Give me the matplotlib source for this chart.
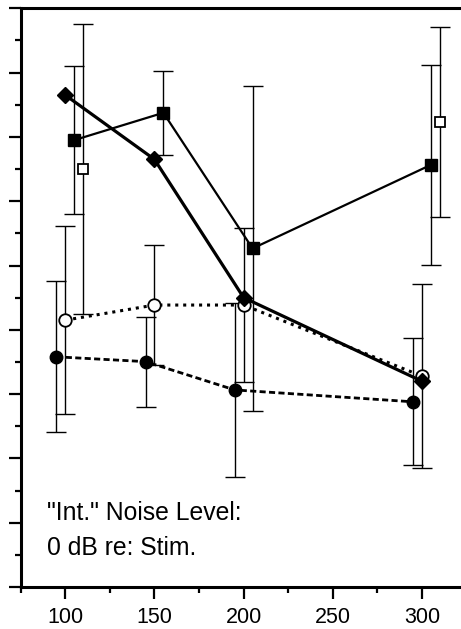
import matplotlib
matplotlib.use("Agg")
import matplotlib.pyplot as plt
from matplotlib.ticker import MultipleLocator, NullFormatter

plt.rcParams['font.family'] = ['Liberation Sans', 'DejaVu Sans']

# Filled diamonds (solid heavy line)
dia_x = [100, 150, 200, 300]
dia_y = [15.3, 13.3, 9.0, 6.4]

# Filled squares (solid line)
fsq_x = [105, 155, 205, 305]
fsq_y = [13.9, 14.75, 10.53, 13.13]
fsq_err = [2.3, 1.3, 5.05, 3.1]

# Open squares (no connecting line)
osq_x = [110, 310]
osq_y = [13.0, 14.47]
osq_err = [4.5, 2.95]

# Open circles (dotted line)
oci_x = [100, 150, 200, 300]
oci_y = [8.3, 8.77, 8.77, 6.56]
oci_err = [2.93, 1.87, 2.4, 2.87]

# Filled circles (dashed line)
fci_x = [95, 145, 195, 295]
fci_y = [7.16, 7.01, 6.13, 5.76]
fci_err = [2.35, 1.4, 2.7, 1.97]

x_ticks = [100, 150, 200, 250, 300]
note_lines = ['"Int." Noise Level:', '0 dB re: Stim.']

W, H = 461, 629
fig = plt.figure(figsize=(W / 100, H / 100), dpi=100)
x0, x1 = 75, 325
px_per_unit = 1.7835
left_px, bottom_px, top_px = 20.7, 587, 8.3
ax = fig.add_axes([left_px / W, (H - bottom_px) / H,
                   (x1 - x0) * px_per_unit / W, (bottom_px - top_px) / H])
ax.set_xlim(x0, x1)
ax.set_ylim(0, 18)

eb_kw = dict(fmt='none', ecolor='black', elinewidth=1.0, capsize=7.5,
             capthick=1.0, zorder=2)
ax.errorbar(fsq_x, fsq_y, yerr=fsq_err, **eb_kw)
ax.errorbar(osq_x, osq_y, yerr=osq_err, **eb_kw)
ax.errorbar(oci_x, oci_y, yerr=oci_err, **eb_kw)
ax.errorbar(fci_x, fci_y, yerr=fci_err, **eb_kw)

ax.plot(fci_x, fci_y, color='black', lw=2.0, ls=(0, (2.2, 1.2)),
        marker='o', ms=9, mfc='black', mec='black', zorder=3)
ax.plot(oci_x, oci_y, color='black', lw=2.2, ls=(0, (1, 1.6)),
        marker='o', ms=9, mfc='white', mec='black', mew=1.3, zorder=3)
ax.plot(fsq_x, fsq_y, color='black', lw=1.6, ls='-',
        marker='s', ms=8, mfc='black', mec='black', zorder=4)
ax.plot(osq_x, osq_y, ls='none',
        marker='s', ms=7.5, mfc='white', mec='black', mew=1.3, zorder=4)
ax.plot(dia_x, dia_y, color='black', lw=2.3, ls='-',
        marker='D', ms=8, mfc='black', mec='black', zorder=5)

ax.text(0.058, 0.128, note_lines[0], transform=ax.transAxes,
        fontsize=17.8, ha='left', va='center')
ax.text(0.058, 0.067, note_lines[1], transform=ax.transAxes,
        fontsize=17.8, ha='left', va='center')

ax.set_xticks(x_ticks)
ax.set_xticklabels([str(t) for t in x_ticks])
ax.xaxis.set_minor_locator(MultipleLocator(25))
ax.yaxis.set_major_locator(MultipleLocator(2))
ax.yaxis.set_minor_locator(MultipleLocator(1))
ax.yaxis.set_major_formatter(NullFormatter())

for s in ['left', 'bottom', 'top']:
    ax.spines[s].set_linewidth(2.2)
ax.spines['right'].set_visible(False)

ax.tick_params(axis='both', which='major', direction='out', length=8.6,
               width=1.6, labelsize=15.5, pad=6)
ax.tick_params(axis='both', which='minor', direction='out', length=4.6,
               width=1.6)
ax.tick_params(axis='x', which='both', top=False)

fig.savefig('out.png', dpi=100)
